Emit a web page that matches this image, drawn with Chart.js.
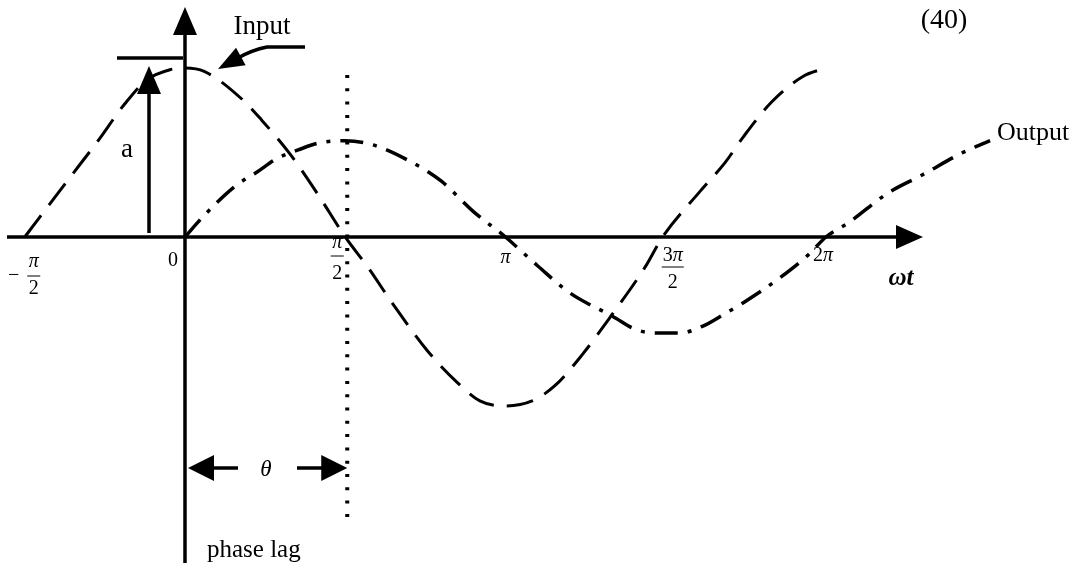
<!DOCTYPE html>
<html>
<head>
<meta charset="utf-8">
<script src="https://cdn.jsdelivr.net/npm/chart.js@4/dist/chart.umd.min.js"></script>
<style>
  html, body { margin: 0; padding: 0; background: #ffffff; }
  canvas { display: block; }
</style>
</head>
<body>
<canvas id="phaseChart" width="1079" height="575"></canvas>
<script>
// Phase in multiples of π, amplitude relative to the input peak a = 1
const inputPhase = [-0.5, -0.368, -0.275, -0.187, -0.119, -0.047, 0, 0.06, 0.181, 0.24, 0.328, 0.412, 0.5,
                    0.571, 0.65, 0.755, 0.849, 0.92, 1.0, 1.083, 1.154, 1.242, 1.332, 1.435, 1.49,
                    1.607, 1.685, 1.741, 1.831, 1.928, 2.0];
const inputValue = [0, 0.33, 0.56, 0.79, 0.93, 0.99, 1.0, 0.98, 0.81, 0.69, 0.49, 0.26, 0,
                    -0.18, -0.40, -0.67, -0.86, -0.97, -1.0, -0.97, -0.88, -0.69, -0.46, -0.18, 0,
                    0.27, 0.44, 0.59, 0.80, 0.95, 1.0];

const outputPhase = [0, 0.056, 0.156, 0.225, 0.287, 0.353, 0.415, 0.5, 0.587, 0.70, 0.80, 0.90, 1.0,
                     1.10, 1.20, 1.335, 1.41, 1.476, 1.544, 1.616, 1.679, 1.741, 1.85, 1.944, 2.0,
                     2.069, 2.193, 2.30, 2.424, 2.512];
const outputValue = [0, 0.12, 0.30, 0.385, 0.465, 0.515, 0.555, 0.57, 0.545, 0.45, 0.33, 0.15, 0,
                     -0.17, -0.33, -0.47, -0.55, -0.568, -0.568, -0.527, -0.46, -0.39, -0.25, -0.107, 0,
                     0.083, 0.26, 0.367, 0.497, 0.57];

const tickPhase = [-0.5, 0, 0.5, 1, 1.5, 2];
const tickLabels = ['−π/2', '0', 'π/2', 'π', '3π/2', '2π'];

const amplitude = 1.0;     // input peak "a"
const phaseLag = 0.5;      // θ, in multiples of π

const toPoints = (xs, ys) => xs.map((x, i) => ({ x: x, y: ys[i] }));

const SERIF = '"Liberation Serif", "DejaVu Serif", serif';
const TICK_SIZE = 20;

function arrowHead(ctx, tipX, tipY, dirX, dirY, len, half) {
  const n = Math.hypot(dirX, dirY);
  const ux = dirX / n, uy = dirY / n;
  const bx = tipX - ux * len, by = tipY - uy * len;
  ctx.beginPath();
  ctx.moveTo(tipX, tipY);
  ctx.lineTo(bx - uy * half, by + ux * half);
  ctx.lineTo(bx + uy * half, by - ux * half);
  ctx.closePath();
  ctx.fill();
}

// Axes with arrowheads, drawn under the curves
const axesPlugin = {
  id: 'axesPlugin',
  beforeDatasetsDraw(chart) {
    const ctx = chart.ctx;
    const xs = chart.scales.x, ys = chart.scales.y;
    const x0 = xs.getPixelForValue(0);
    const y0 = ys.getPixelForValue(0);
    ctx.save();
    ctx.strokeStyle = '#000';
    ctx.fillStyle = '#000';
    ctx.lineWidth = 3.5;
    ctx.lineCap = 'butt';
    // horizontal ωt axis
    ctx.beginPath();
    ctx.moveTo(7, y0);
    ctx.lineTo(905, y0);
    ctx.stroke();
    arrowHead(ctx, 923, y0, 1, 0, 27, 12);
    // vertical axis
    ctx.beginPath();
    ctx.moveTo(x0, 563);
    ctx.lineTo(x0, 25);
    ctx.stroke();
    arrowHead(ctx, x0, 7, 0, -1, 28, 12);
    ctx.restore();
  }
};

// Labels, amplitude marker, phase-lag marker and callouts
const notesPlugin = {
  id: 'notesPlugin',
  afterDatasetsDraw(chart) {
    const ctx = chart.ctx;
    const xs = chart.scales.x, ys = chart.scales.y;
    const x0 = xs.getPixelForValue(0);
    const y0 = ys.getPixelForValue(0);
    const yA = ys.getPixelForValue(amplitude);
    const xLag = xs.getPixelForValue(phaseLag);
    ctx.save();
    ctx.fillStyle = '#000';
    ctx.strokeStyle = '#000';

    // tick labels along the ωt axis
    const fracOffsets = [
      { dx: 9,  num: 262, bar: 276, den: 289 },
      { dx: -12, num: 261 },
      { dx: -8, num: 243, bar: 256, den: 274 },
      { dx: 0,  num: 258 },
      { dx: 7,  num: 256, bar: 267, den: 283 },
      { dx: -3, num: 256 }
    ];
    ctx.textBaseline = 'middle';
    const drawPiText = (s, x, y) => {
      // π in italic, digits upright
      const segs = s.match(/π|[^π]+/g);
      let total = 0;
      const widths = segs.map(sg => {
        ctx.font = (sg === 'π' ? 'italic ' : '') + TICK_SIZE + 'px ' + SERIF;
        const w = ctx.measureText(sg).width; total += w; return w;
      });
      let cur = x - total / 2;
      ctx.textAlign = 'left';
      segs.forEach((sg, k) => {
        ctx.font = (sg === 'π' ? 'italic ' : '') + TICK_SIZE + 'px ' + SERIF;
        ctx.fillText(sg, cur, y);
        cur += widths[k];
      });
      return total;
    };
    tickLabels.forEach((lab, i) => {
      const o = fracOffsets[i];
      const cx = xs.getPixelForValue(tickPhase[i]) + o.dx;
      let text = lab, sign = '';
      if (text.startsWith('−')) { sign = '−'; text = text.slice(1); }
      const parts = text.split('/');
      if (parts.length === 2) {
        const w = drawPiText(parts[0], cx, o.num);
        drawPiText(parts[1], cx, o.den);
        const half = Math.max(w, 11) / 2 + 1;
        ctx.lineWidth = 1;
        ctx.beginPath();
        ctx.moveTo(cx - half, o.bar);
        ctx.lineTo(cx + half, o.bar);
        ctx.stroke();
        if (sign) {
          ctx.font = TICK_SIZE + 'px ' + SERIF;
          ctx.textAlign = 'center';
          ctx.fillText(sign, cx - 20, o.bar);
        }
      } else {
        drawPiText(parts[0], cx, o.num);
      }
    });

    // ωt axis title
    ctx.font = 'italic bold 25px ' + SERIF;
    ctx.textAlign = 'center';
    ctx.fillText('ωt', 901, 279);

    // amplitude marker "a"
    ctx.lineWidth = 3.5;
    ctx.beginPath();
    ctx.moveTo(117, yA - 10);
    ctx.lineTo(x0 - 2, yA - 10);
    ctx.stroke();
    ctx.beginPath();
    ctx.moveTo(149, y0 - 4);
    ctx.lineTo(149, yA + 20);
    ctx.stroke();
    arrowHead(ctx, 149, yA - 2, 0, -1, 28, 12);
    ctx.font = '27px ' + SERIF;
    ctx.fillText('a', 127, 150);

    // dotted line through the output peak
    ctx.lineWidth = 4;
    ctx.setLineDash([3, 10.3]);
    ctx.beginPath();
    ctx.moveTo(xLag + 2, 75);
    ctx.lineTo(xLag + 2, 518);
    ctx.stroke();
    ctx.setLineDash([]);

    // phase lag θ arrows
    const yT = 468;
    ctx.lineWidth = 3.5;
    ctx.beginPath();
    ctx.moveTo(238, yT); ctx.lineTo(208, yT);
    ctx.moveTo(297, yT); ctx.lineTo(327, yT);
    ctx.stroke();
    arrowHead(ctx, x0 + 3, yT, -1, 0, 26, 13);
    arrowHead(ctx, xLag + 2, yT, 1, 0, 26, 13);
    ctx.font = 'italic 23px ' + SERIF;
    ctx.fillText('θ', 266, yT + 2);

    ctx.font = '25px ' + SERIF;
    ctx.textAlign = 'left';
    ctx.fillText('phase lag', 207, 550);

    // "Input" callout
    ctx.font = '27px ' + SERIF;
    ctx.textAlign = 'center';
    ctx.fillText('Input', 262, 27);
    ctx.lineWidth = 3.5;
    ctx.beginPath();
    ctx.moveTo(305, 47);
    ctx.lineTo(267, 47);
    ctx.quadraticCurveTo(252, 50, 238, 58);
    ctx.stroke();
    arrowHead(ctx, 218, 69, -22, 12, 26, 10);

    // "Output" label and equation number
    ctx.font = '26px ' + SERIF;
    ctx.textAlign = 'left';
    ctx.fillText('Output', 997, 133);
    ctx.textAlign = 'center';
    ctx.font = '28px ' + SERIF;
    ctx.fillText('(40)', 944, 21);

    ctx.restore();
  }
};

new Chart(document.getElementById('phaseChart'), {
  type: 'line',
  data: {
    datasets: [
      {
        label: 'Input',
        data: toPoints(inputPhase, inputValue),
        borderColor: '#000',
        borderWidth: 3,
        borderDash: [27, 13],
        borderCapStyle: 'butt',
        pointRadius: 0,
        cubicInterpolationMode: 'monotone',
        fill: false
      },
      {
        label: 'Output',
        data: toPoints(outputPhase, outputValue),
        borderColor: '#000',
        borderWidth: 3.5,
        borderDash: [23, 10, 4, 10],
        borderCapStyle: 'butt',
        pointRadius: 0,
        cubicInterpolationMode: 'monotone',
        fill: false
      }
    ]
  },
  options: {
    responsive: false,
    animation: false,
    layout: { padding: 0 },
    plugins: { legend: { display: false }, tooltip: { enabled: false }, title: { display: false } },
    scales: {
      x: { type: 'linear', display: false, min: -0.5772, max: 2.7894 },
      y: { type: 'linear', display: false, min: -2.0, max: 1.4024 }
    }
  },
  plugins: [axesPlugin, notesPlugin]
});
</script>
</body>
</html>
